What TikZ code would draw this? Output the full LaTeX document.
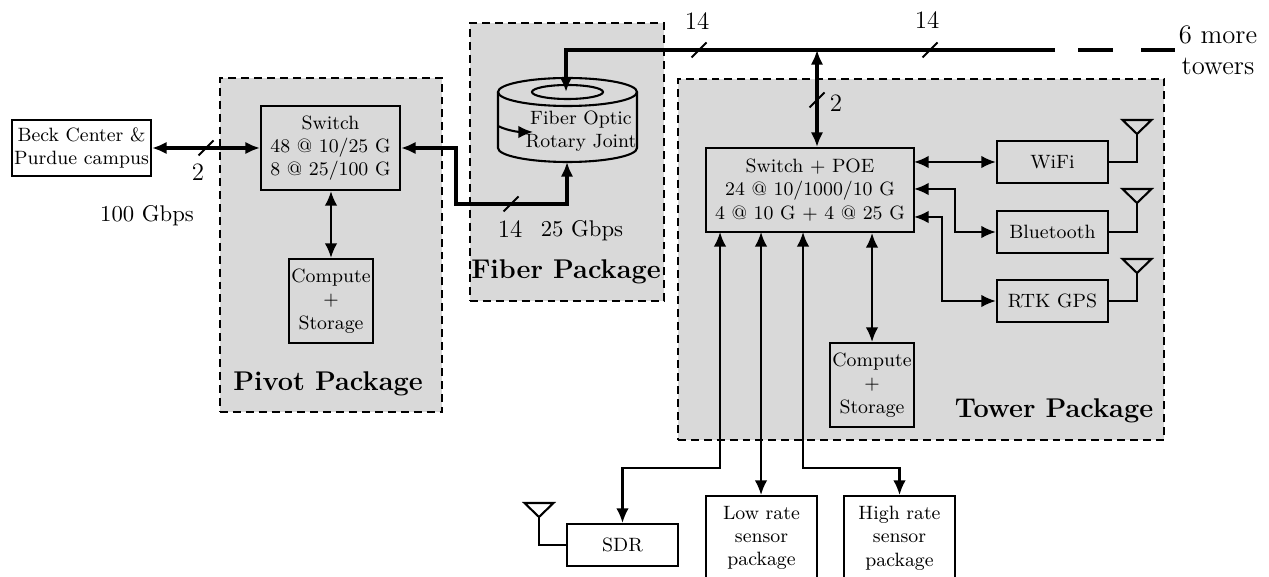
\documentclass[tikz,border=0pt]{standalone}
\usepackage{amsmath,amssymb}
\usetikzlibrary{arrows.meta}

\definecolor{pkggray}{HTML}{D9D9D9}

\tikzset{
    >={Latex[length=7pt,width=6pt]},
    pkgbox/.style={draw, dash pattern=on 3.8pt off 2.4pt, line width=0.9pt, fill=pkggray, minimum width=#1},
    blockbox/.style={draw, line width=1pt, align=center, inner sep=0pt, font=\fontsize{9.25}{11.2}\selectfont},
    swbox/.style={blockbox, minimum width=66.7pt, minimum height=40.3pt},
    radiobox/.style={blockbox, minimum width=53.3pt, minimum height=20.2pt},
    sensorbox/.style={blockbox, minimum width=53.3pt, minimum height=40.3pt},
    computebox/.style={blockbox, minimum width=40.3pt, minimum height=40.3pt},
    pkglabel/.style={font=\fontsize{13}{15}\bfseries\selectfont},
    countlabel/.style={font=\large},
    rate/.style={font=\fontsize{10.9}{13}\selectfont},
    thinlink/.style={line width=1pt},
    thicklink/.style={line width=1.9pt},
    pics/antenna/.style={code={\draw[line width=1pt, line join=miter] (0,0) -- (-14.5,-14) -- (14.5,-14) -- cycle;}},
    pics/slash/.style={code={\draw[line width=1pt] (-7.5,7.5) -- (7.5,-7.5);}},
}

\begin{document}
\begin{tikzpicture}[x=0.48pt, y=-0.48pt]
    \useasboundingbox (0,0) rectangle (1269,577);
    \clip (0,0) rectangle (1269,577);

    \node[pkgbox=106.6pt, minimum height=160.3pt] (pivotpkg) at (331,245) {};
    \node[pkgbox=93.1pt, minimum height=133.4pt] (fiberpkg) at (567,162) {};
    \node[pkgbox=233.3pt, minimum height=173.3pt] (towerpkg) at (921,259.5) {};

    \node[pkglabel] (pivotlabel) at (328,384) {Pivot Package};
    \node[pkglabel] (fiberlabel) at (566,272) {Fiber Package};
    \node[pkglabel] (towerlabel) at (1054,411) {Tower Package};

    \node[blockbox, minimum width=66.7pt, minimum height=26.9pt] (beck) at (81.5,148) {Beck Center \&\\Purdue campus};
    \node[swbox] (pivotsw) at (330.5,148) {Switch\\48 @ 10/25 G\\8 @ 25/100 G};
    \node[computebox] (pivotcomp) at (331,301) {Compute\\+\\Storage};

    \node[blockbox, minimum width=99.8pt, minimum height=40.3pt] (towersw) at (810,190) {Switch + POE\\24 @ 10/1000/10 G\\4 @ 10 G + 4 @ 25 G};
    \node[computebox] (towercomp) at (872,385) {Compute\\+\\Storage};
    \node[radiobox] (wifi) at (1052.5,162) {WiFi};
    \node[radiobox] (bluetooth) at (1052.5,232) {Bluetooth};
    \node[radiobox] (rtk) at (1052.5,301) {RTK GPS};

    \node[radiobox] (sdr) at (622.5,545) {SDR};
    \node[sensorbox] (lowrate) at (761.5,538) {Low rate\\sensor\\package};
    \node[sensorbox] (highrate) at (899.5,538) {High rate\\sensor\\package};

    % rotary joint
    \coordinate (jointtop) at (566,92);
    \coordinate (jointbot) at (567,162);
    \coordinate (jointin) at (498,126);
    \coordinate (jointout) at (533,132);
    \draw[line width=1pt] (567.5,92) ellipse [x radius=69.5, y radius=14];
    \draw[line width=1pt] (567.5,92) ellipse [x radius=35.5, y radius=7];
    \draw[line width=1pt] (498,92) -- (498,148) arc [start angle=180, end angle=0, x radius=69.5, y radius=14] -- (637,92);
    \draw[thinlink, ->] (jointin) .. controls (508,131) and (520,132) .. (jointout);
    \node[font=\fontsize{9.25}{11.2}\selectfont, align=center] (joint) at (581,131) {Fiber Optic\\Rotary Joint};

    % fiber bus
    \coordinate (bustap) at (817,50);
    \coordinate (busend) at (1055,50);
    \coordinate (dasha) at (1078,50);
    \coordinate (dashb) at (1113,50);
    \coordinate (dashc) at (1141,50);
    \coordinate (dashd) at (1175,50);
    \draw[thicklink, ->] (busend) -- (566,50) -- (jointtop);
    \draw[thicklink] (dasha) -- (dashb);
    \draw[thicklink] (dashc) -- (dashd);
    \draw[thicklink, <->] (bustap) -- (towersw.north -| bustap);
    \draw[thicklink, <->] (beck.east) -- (pivotsw.west);
    \coordinate (jogtop) at (456,148);
    \coordinate (jogbot) at (456,204);
    \draw[thicklink, <->] (pivotsw.east) -- (jogtop) -- (jogbot) -| (jointbot);

    \pic at (206,148) {slash};
    \pic at (511,204) {slash};
    \pic at (699,50) {slash};
    \pic at (930,50) {slash};
    \pic at (817,100) {slash};

    \node[countlabel] (counta) at (198,172) {2};
    \node[rate] (ratea) at (147,216) {100 Gbps};
    \node[countlabel] (countb) at (510,229) {14};
    \node[rate] (rateb) at (582,231) {25 Gbps};
    \node[countlabel] (countc) at (697,21) {14};
    \node[countlabel] (countd) at (927,20) {14};
    \node[countlabel] (counte) at (836,103) {2};
    \node[font=\fontsize{12.8}{15}\selectfont, align=center] (more) at (1218,50) {6 more\\towers};

    \draw[thinlink, <->] (pivotsw.south -| pivotcomp.north) -- (pivotcomp.north);
    \draw[thinlink, <->] (towersw.south -| towercomp.north) -- (towercomp.north);

    \coordinate (portwifi) at (914,162);
    \coordinate (portbt) at (914,189);
    \coordinate (portrtk) at (914,217);
    \coordinate (bendbt) at (955,189);
    \coordinate (bendrtk) at (942,217);
    \draw[thinlink, <->] (portwifi) -- (wifi.west);
    \draw[thinlink, <->] (portbt) -- (bendbt) |- (bluetooth.west);
    \draw[thinlink, <->] (portrtk) -- (bendrtk) |- (rtk.west);

    \coordinate (portsdr) at (720,232);
    \coordinate (portlow) at (761,232);
    \coordinate (porthigh) at (803,232);
    \coordinate (bendsdr) at (720,468);
    \coordinate (bendhigh) at (803,468);
    \draw[thinlink, <->] (portsdr) -- (bendsdr) -| (sdr.north);
    \draw[thinlink, <->] (portlow) -- (lowrate.north -| portlow);
    \draw[thinlink, <->] (porthigh) -- (bendhigh) -| (highrate.north);

    \coordinate (antwifi) at (1137,134);
    \coordinate (antbt) at (1137,203);
    \coordinate (antrtk) at (1137,273);
    \coordinate (antsdr) at (539,517);
    \pic at (antwifi) {antenna};
    \pic at (antbt) {antenna};
    \pic at (antrtk) {antenna};
    \pic at (antsdr) {antenna};
    \draw[thinlink] (wifi.east) -| (antwifi);
    \draw[thinlink] (bluetooth.east) -| (antbt);
    \draw[thinlink] (rtk.east) -| (antrtk);
    \draw[thinlink] (sdr.west) -| (antsdr);
\end{tikzpicture}
\end{document}
